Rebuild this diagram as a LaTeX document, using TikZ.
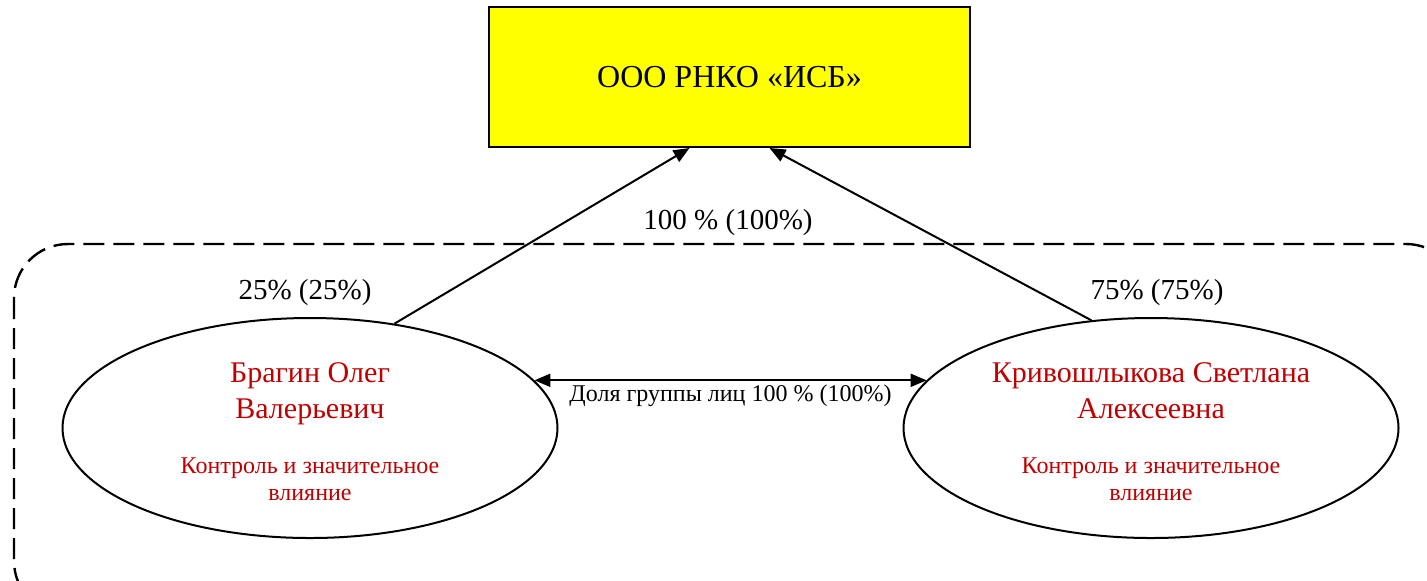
\documentclass[tikz,border=0pt]{standalone}
\usepackage{fontspec}
\setmainfont{Liberation Serif}
\usetikzlibrary{shapes,arrows.meta}
\definecolor{namered}{RGB}{192,0,0}
\definecolor{boxyellow}{RGB}{255,255,0}

\begin{document}
\begin{tikzpicture}[x=0.5pt,y=-0.5pt, >={Triangle[length=8pt,width=6.5pt]}, line width=1pt]% 1 unit = 1 px
\useasboundingbox (0,0) rectangle (1427,580);
\tikzstyle{company}=[draw,fill=boxyellow,rectangle,minimum width=240.5pt,minimum height=70pt,font=\fontsize{16}{19}\selectfont]
\tikzstyle{person}=[draw,ellipse,minimum width=247.5pt,minimum height=110pt,inner sep=0pt,align=center,text=namered,font=\fontsize{15}{18}\selectfont]
\tikzstyle{share}=[font=\fontsize{14.5}{17}\selectfont]
\newcommand{\infl}{\fontsize{12}{13.5}\selectfont}

% group of persons
\draw[dash pattern=on 10.5pt off 4.5pt, line width=1.2pt, rounded corners=27pt] (14,244) rectangle (1460,615);

\node[company] (isb) at (729.5,77) {ООО РНКО «ИСБ»};

\node[person] (bragin) at (310,428) {\rule{0pt}{13.5pt}Брагин Олег\\ Валерьевич\\[9.5pt]
	{\infl Контроль и значительное}\\[-4.5pt] {\infl влияние}};
\node[person] (krivo) at (1151,428) {\rule{0pt}{13.5pt}Кривошлыкова Светлана\\ Алексеевна\\[9.5pt]
	{\infl Контроль и значительное}\\[-4.5pt] {\infl влияние}};

\draw[->] (bragin.51) -- ([xshift=-20pt]isb.south);
\draw[->] (krivo.119) -- ([xshift=20pt]isb.south);
\draw[<->] (bragin.12) -- (krivo.168)
	node[midway,below,inner sep=2pt,font=\fontsize{12}{14}\selectfont] (dolya) {Доля группы лиц 100 \% (100\%)};

\node[share] (total) at (728,223) {100 \% (100\%)};
\node[share] (sharebr) at (305,293) {25\% (25\%)};
\node[share] (sharekr) at (1157,293) {75\% (75\%)};

%\draw (bragin) -- (krivo);
\end{tikzpicture}
\end{document}
